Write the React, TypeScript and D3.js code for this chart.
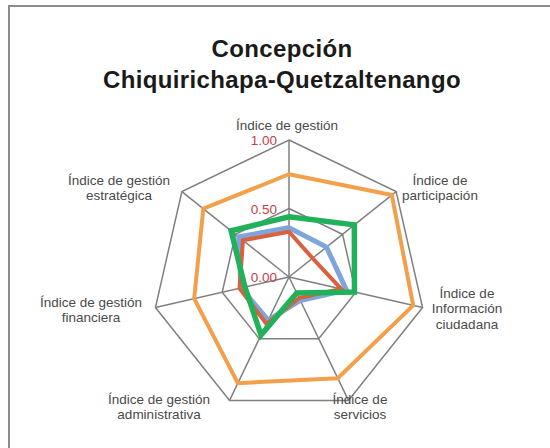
import React from "react";
import * as d3 from "d3";

const categories: string[][] = [
  ["Índice de gestión"],
  ["Índice de", "participación"],
  ["Índice de", "Información", "ciudadana"],
  ["Índice de", "servicios"],
  ["Índice de gestión", "administrativa"],
  ["Índice de gestión", "financiera"],
  ["Índice de gestión", "estratégica"],
];

const seriesOrange = [0.75, 0.96, 0.93, 0.82, 0.86, 0.71, 0.8];
const seriesBlue = [0.36, 0.35, 0.43, 0.19, 0.35, 0.36, 0.47];
const seriesRed = [0.33, 0.22, 0.39, 0.17, 0.38, 0.37, 0.43];
const seriesGreen = [0.44, 0.61, 0.49, 0.13, 0.47, 0.33, 0.54];

const tickValues = [0, 0.5, 1];
const tickLabels = ["0.00", "0.50", "1.00"];
const titleLines = ["Concepción", "Chiquirichapa-Quetzaltenango"];

const series = [
  { values: seriesOrange, color: "#F2A04B", width: 4 },
  { values: seriesBlue, color: "#7EA6DA", width: 5 },
  { values: seriesRed, color: "#DA6040", width: 4 },
  { values: seriesGreen, color: "#21B158", width: 5.5 },
];

const labelPos: [number, number][] = [
  [287, 130],
  [440, 185],
  [467, 298],
  [360, 404],
  [159, 404],
  [91, 307],
  [119, 185],
];

export default function App() {
  const W = 550;
  const H = 448;
  const cx = 289;
  const cy = 277;
  const R = 137;
  const n = categories.length;
  const r = d3.scaleLinear().domain([0, 1]).range([0, R]);
  const ang = d3.scaleLinear().domain([0, n]).range([0, 2 * Math.PI]);
  const idx = d3.range(n);

  const radial = d3
    .lineRadial<number>()
    .angle((_, i) => ang(i))
    .radius((d) => r(d))
    .curve(d3.curveLinearClosed);

  const pt = (i: number, v: number): [number, number] => {
    const a = ang(i);
    return [Math.sin(a) * r(v), -Math.cos(a) * r(v)];
  };

  const font = "'Liberation Sans', Arial, Helvetica, sans-serif";

  return (
    <svg
      width={W}
      height={H}
      style={{ position: "absolute", left: 0, top: 0, display: "block", background: "#fff" }}
    >
      <rect x={0} y={0} width={W} height={H} fill="#fff" />
      <path d={`M9,${H} L9,6 L${W},6`} fill="none" stroke="#8c8c8c" strokeWidth={2} />
      {titleLines.map((t, i) => (
        <text
          key={i}
          x={282}
          y={57 + i * 31}
          textAnchor="middle"
          fontFamily={font}
          fontWeight="bold"
          fontSize={24}
          letterSpacing={0.35}
          fill="#1a1a1a"
        >
          {t}
        </text>
      ))}
      <g transform={`translate(${cx},${cy})`}>
        {tickValues
          .filter((t) => t > 0)
          .map((t) => (
            <path
              key={t}
              d={radial(idx.map(() => t)) || ""}
              fill="none"
              stroke="#808080"
              strokeWidth={1.5}
            />
          ))}
        {idx.map((i) => {
          const [x, y] = pt(i, 1);
          return <line key={i} x1={0} y1={0} x2={x} y2={y} stroke="#808080" strokeWidth={1.5} />;
        })}
        {series.map((s, k) => (
          <path
            key={k}
            d={radial(s.values) || ""}
            fill="none"
            stroke={s.color}
            strokeWidth={s.width}
            strokeLinejoin="miter"
          />
        ))}
        {tickValues.map((t, i) => (
          <text
            key={t}
            x={-12}
            y={-r(t) + 5}
            textAnchor="end"
            fontFamily={font}
            fontSize={13.5}
            fill="#C8404A"
          >
            {tickLabels[i]}
          </text>
        ))}
      </g>
      {categories.map((lines, i) => (
        <text
          key={i}
          textAnchor="middle"
          fontFamily={font}
          fontSize={13.5}
          fill="#4a4a4a"
        >
          {lines.map((l, j) => (
            <tspan key={j} x={labelPos[i][0]} y={labelPos[i][1] + j * 15.3}>
              {l}
            </tspan>
          ))}
        </text>
      ))}
    </svg>
  );
}
